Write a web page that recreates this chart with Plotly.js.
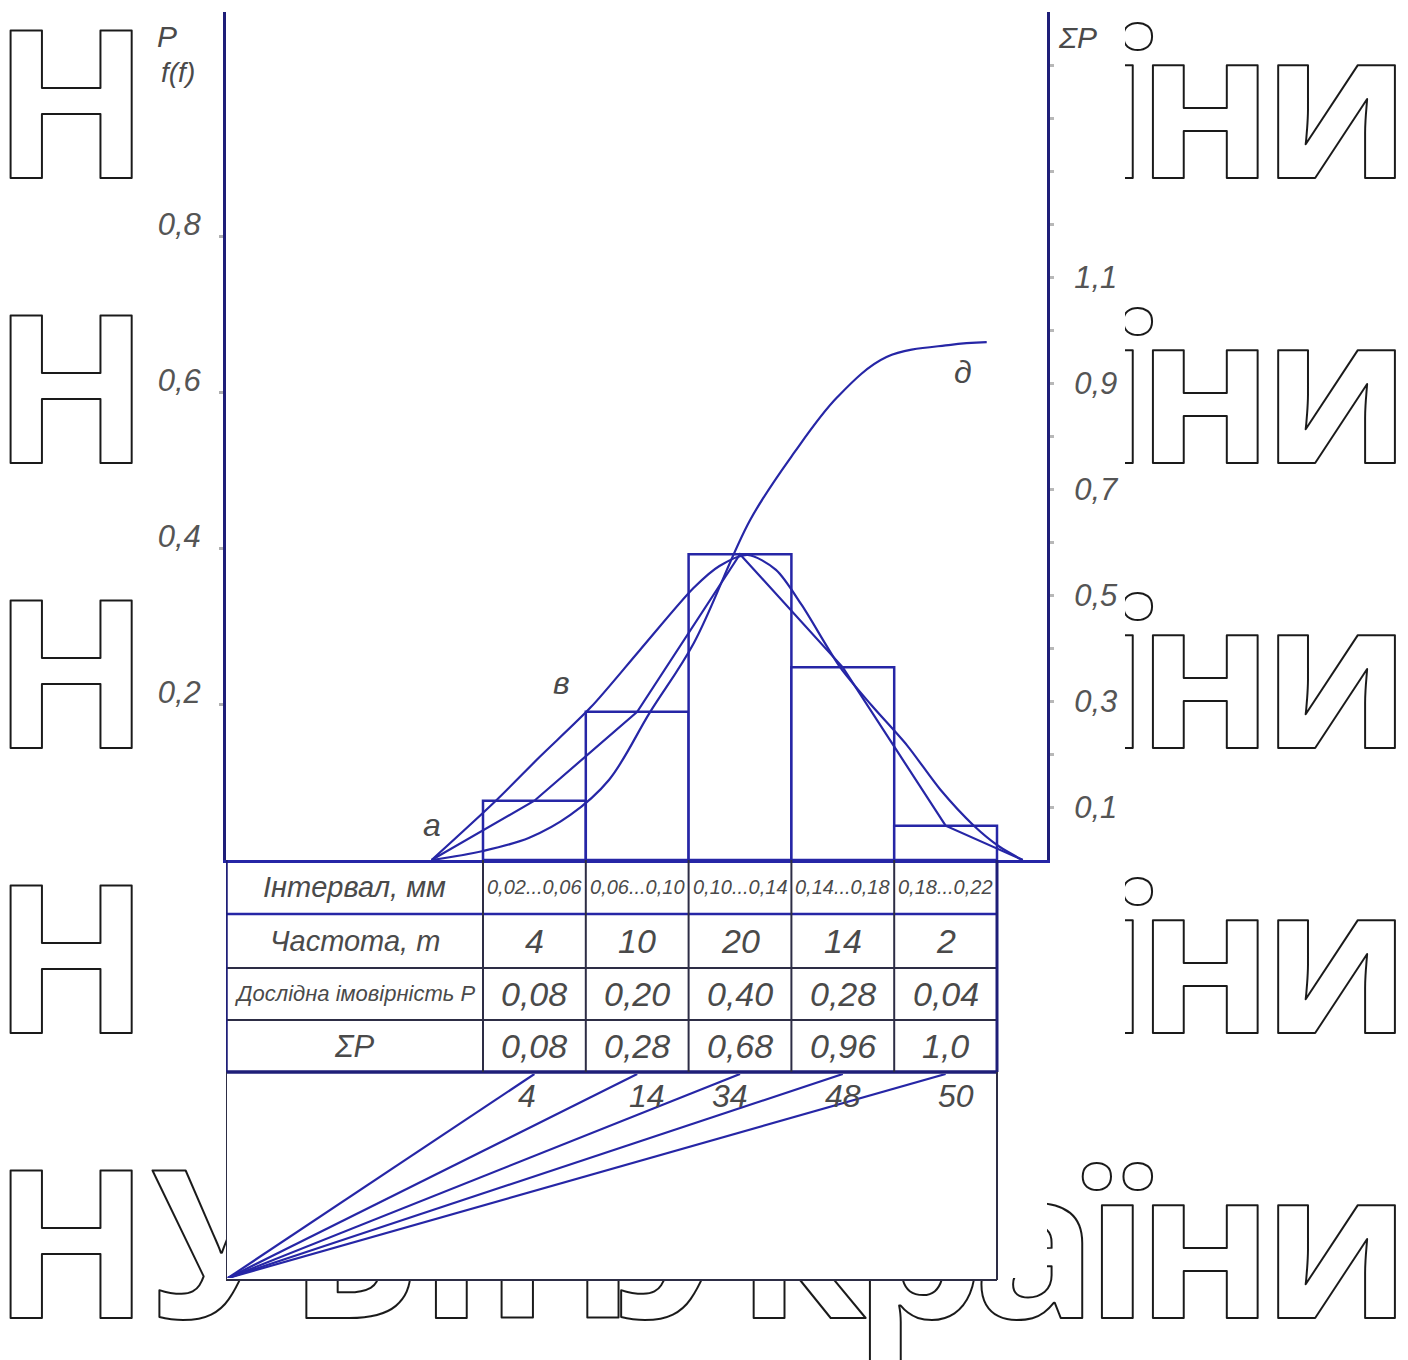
<!DOCTYPE html>
<html>
<head>
<meta charset="utf-8">
<script src="https://cdn.plot.ly/plotly-3.0.1.min.js"></script>
<style>
html,body{margin:0;padding:0;background:#fff;}
/* outline-only watermark lettering */
.textpoint text { stroke: #1a1a1a; stroke-width: 2px; stroke-linejoin: round; }
.textpoint:nth-child(even) text { letter-spacing: -12px; }
</style>
</head>
<body>
<div id="chart" style="width:1408px;height:1360px;"></div>
<script>
// ---------------- DATA ----------------
const intervalEdges = [0.02, 0.06, 0.10, 0.14, 0.18, 0.22];
const intervalLabels = ['0,02...0,06', '0,06...0,10', '0,10...0,14', '0,14...0,18', '0,18...0,22'];
const frequency = [4, 10, 20, 14, 2];
const probText = ['0,08', '0,20', '0,40', '0,28', '0,04'];
const cumText = ['0,08', '0,28', '0,68', '0,96', '1,0'];
const rowTitles = ['Інтервал, мм', 'Частота, m', 'Дослідна імовірність Р', 'ΣP'];

// bar heights as drawn in the picture (left axis P)
const barHeights = [0.076, 0.19, 0.392, 0.247, 0.044];

// frequency polygon
const polygonX = [0.0, 0.04, 0.08, 0.12, 0.16, 0.20, 0.23];
const polygonY = [0, 0.076, 0.19, 0.392, 0.247, 0.044, 0];

// theoretical curve f(t)
const normalX = [0.0, 0.025, 0.042, 0.062, 0.081, 0.102, 0.112, 0.123, 0.134, 0.144, 0.159, 0.171, 0.185, 0.198, 0.211, 0.221, 0.230];
const normalY = [0, 0.076, 0.132, 0.196, 0.269, 0.349, 0.377, 0.391, 0.372, 0.327, 0.247, 0.199, 0.147, 0.090, 0.044, 0.017, 0];

// cumulative curve ΣP (right axis)
const cumX = [0.0, 0.020, 0.038, 0.054, 0.069, 0.085, 0.102, 0.124, 0.141, 0.158, 0.177, 0.202, 0.216];
const cumY = [0, 0.017, 0.042, 0.085, 0.151, 0.279, 0.409, 0.642, 0.768, 0.874, 0.949, 0.972, 0.977];

// cumulative counts for the ray diagram
const rayCounts = [4, 14, 34, 48, 50];

// axis ticks
const leftTickVals = [0.2, 0.4, 0.6, 0.8];
const leftTickText = ['0,2', '0,4', '0,6', '0,8'];
const rightTickVals = [0.1, 0.2, 0.3, 0.4, 0.5, 0.6, 0.7, 0.8, 0.9, 1.0, 1.1, 1.2, 1.3, 1.4, 1.5];
const rightTickText = ['0,1', '', '0,3', '', '0,5', '', '0,7', '', '0,9', '', '1,1', '', '', '', ''];

const curveLabels = ['а', 'в', 'д'];
const watermarkLeft = 'НУБіП';
const watermarkRight = 'України';

// ---------------- LAYOUT HELPERS ----------------
const W = 1408, H = 1360;
const px = x => x / W;
const py = y => 1 - y / H;
const X0 = -0.08, PXPERMM = 2570;
const xAt = p => X0 + (p - 226) / PXPERMM;

const navy = '#1e1e78';
const blue = '#2626a6';
const dark = '#2d2d45';
const gray = '#4a4a4a';
const FONT = '"Liberation Sans", Arial, sans-serif';

const mids = intervalEdges.slice(0, -1).map((e, i) => (e + intervalEdges[i + 1]) / 2);

const traces = [];

// watermark (bottom layer)
const wmRows = [178, 463, 748, 1033, 1318];
const wmX = [], wmY = [], wmT = [], wmPos = [];
wmRows.forEach(b => {
  wmX.push(-8); wmY.push(b - 52); wmT.push(watermarkLeft); wmPos.push('middle right');
  wmX.push(1399); wmY.push(b - 52); wmT.push(watermarkRight); wmPos.push('middle left');
});
traces.push({
  type: 'scatter', mode: 'text', xaxis: 'x', yaxis: 'y',
  x: wmX, y: wmY, text: wmT, textposition: wmPos, cliponaxis: true,
  hoverinfo: 'skip', showlegend: false,
  textfont: {family: '"Open Sans", sans-serif', size: 207, weight: 700, color: '#ffffff'}
});
// white drawing sheet covering the watermark
traces.push({
  type: 'scatter', mode: 'lines', xaxis: 'x', yaxis: 'y',
  x: [148, 1125, 1125, 997, 997, 226, 226, 148, 148],
  y: [0, 0, 1072, 1072, 1280, 1280, 1072, 1072, 0],
  fill: 'toself', fillcolor: '#ffffff', line: {width: 0, color: 'rgba(0,0,0,0)'},
  hoverinfo: 'skip', showlegend: false
});

// histogram
traces.push({
  type: 'bar', xaxis: 'x2', yaxis: 'y2', x: mids, y: barHeights,
  width: intervalEdges.slice(1).map((e, i) => e - intervalEdges[i]),
  marker: {color: '#ffffff', line: {color: blue, width: 2.5}},
  hoverinfo: 'skip', showlegend: false
});
// polygon
traces.push({
  type: 'scatter', mode: 'lines', xaxis: 'x2', yaxis: 'y2', x: polygonX, y: polygonY,
  line: {color: blue, width: 2.2}, hoverinfo: 'skip', showlegend: false
});
// normal curve
traces.push({
  type: 'scatter', mode: 'lines', xaxis: 'x2', yaxis: 'y2', x: normalX, y: normalY,
  line: {color: blue, width: 2.2, shape: 'spline', smoothing: 0.8}, hoverinfo: 'skip', showlegend: false
});
// cumulative curve
traces.push({
  type: 'scatter', mode: 'lines', xaxis: 'x2', yaxis: 'y3', x: cumX, y: cumY,
  line: {color: blue, width: 2.2, shape: 'spline', smoothing: 1.0}, hoverinfo: 'skip', showlegend: false
});
// rays
const rayOrigin = xAt(228);
rayCounts.forEach((c, i) => {
  traces.push({
    type: 'scatter', mode: 'lines', xaxis: 'x2', yaxis: 'y4',
    x: [rayOrigin, mids[i]], y: [0, 1],
    line: {color: blue, width: 2.2}, hoverinfo: 'skip', showlegend: false
  });
});

// ---------------- SHAPES (table) ----------------
const shapes = [];
const L = (x0, y0, x1, y1, color, width) => shapes.push({
  type: 'line', xref: 'x2', yref: 'paper', x0, x1, y0: py(y0), y1: py(y1),
  line: {color, width}, layer: 'above'
});
const xEnd = intervalEdges[intervalEdges.length - 1];
L(X0, 914, xEnd, 914, blue, 2.5);
L(X0, 968, xEnd, 968, dark, 2);
L(X0, 1020, xEnd, 1020, dark, 2);
L(X0, 1072, xEnd, 1072, navy, 3.5);
intervalEdges.forEach((e, i) => {
  const last = i === intervalEdges.length - 1;
  L(e, 860, e, 1072, last ? navy : dark, last ? 3 : 2);
});
L(X0, 860, X0, 1072, navy, 3.5);
// ray box
L(X0, 1072, X0, 1280, dark, 2);
L(xEnd, 1072, xEnd, 1280, dark, 2);
L(X0, 1280, xEnd, 1280, dark, 2);

// ---------------- ANNOTATIONS ----------------
const ann = [];
const A = (x, y, text, size, opts) => ann.push(Object.assign({
  x, y, text, showarrow: false, xanchor: 'center', yanchor: 'middle',
  font: {family: FONT, size, color: gray, style: 'italic'}
}, opts || {}));
const rowCenters = [887, 941, 994, 1046];
const titleSizes = [29, 29, 22, 31];
const firstColCenter = (X0 + intervalEdges[0]) / 2;
rowTitles.forEach((t, r) => A(firstColCenter, py(rowCenters[r]), t, titleSizes[r], {xref: 'x2', yref: 'paper'}));
const rayLabelShift = [-0.003, 0.004, -0.004, 0.0, 0.004];
mids.forEach((m, i) => {
  A(m, py(rowCenters[0]), intervalLabels[i], 20, {xref: 'x2', yref: 'paper'});
  A(m, py(rowCenters[1]), String(frequency[i]), 34, {xref: 'x2', yref: 'paper'});
  A(m, py(rowCenters[2]), probText[i], 34, {xref: 'x2', yref: 'paper'});
  A(m, py(rowCenters[3]), cumText[i], 34, {xref: 'x2', yref: 'paper'});
  A(m + rayLabelShift[i], 0.89, String(rayCounts[i]), 32, {xref: 'x2', yref: 'y4'});
});
// axis names
A(px(167), py(36), 'P', 30, {xref: 'paper', yref: 'paper'});
A(px(178), py(72), 'f(f)', 28, {xref: 'paper', yref: 'paper'});
A(px(1077), py(37), 'ΣP', 30, {xref: 'paper', yref: 'paper'});
// curve labels
A(0.0, 0.045, curveLabels[0], 32, {xref: 'x2', yref: 'y2'});
A(xAt(561), py(683), curveLabels[1], 32, {xref: 'x2', yref: 'paper'});
A(xAt(963), py(372), curveLabels[2], 32, {xref: 'x2', yref: 'paper'});

const tickFont = {family: FONT, size: 31, color: '#555', style: 'italic'};

const layout = {
  width: W, height: H,
  margin: {l: 0, r: 0, t: 0, b: 0, pad: 0},
  paper_bgcolor: '#ffffff', plot_bgcolor: '#ffffff',
  showlegend: false,
  xaxis: {domain: [0, 1], range: [0, W], visible: false, fixedrange: true},
  yaxis: {domain: [0, 1], range: [H, 0], visible: false, fixedrange: true},
  xaxis2: {
    domain: [px(226), px(1047)], range: [X0, X0 + 821 / PXPERMM], anchor: 'y2',
    showline: true, linecolor: blue, linewidth: 3, showgrid: false, zeroline: false,
    showticklabels: false, ticks: '', fixedrange: true
  },
  yaxis2: {
    domain: [py(860), py(12)], range: [0, 848 / 780], anchor: 'x2',
    showline: true, linecolor: navy, linewidth: 3, showgrid: false, zeroline: false,
    tickvals: leftTickVals, ticktext: leftTickText, ticks: 'outside', ticklen: 4, tickwidth: 3,
    tickcolor: '#b0b0b0', tickfont: tickFont, ticklabelshift: -12, ticklabelstandoff: 12, fixedrange: true
  },
  yaxis3: {
    overlaying: 'y2', side: 'right', anchor: 'x2', range: [0, 848 / 530],
    showline: true, linecolor: navy, linewidth: 3, showgrid: false, zeroline: false,
    tickvals: rightTickVals, ticktext: rightTickText, ticks: 'outside', ticklen: 4, tickwidth: 3,
    tickcolor: '#b8b8b8', tickfont: tickFont, ticklabelstandoff: 14, fixedrange: true
  },
  yaxis4: {domain: [py(1278), py(1074)], range: [0, 1], anchor: 'x2', visible: false, fixedrange: true},
  shapes: shapes,
  annotations: ann
};

Plotly.newPlot('chart', traces, layout, {staticPlot: true, displayModeBar: false});
</script>
</body>
</html>
